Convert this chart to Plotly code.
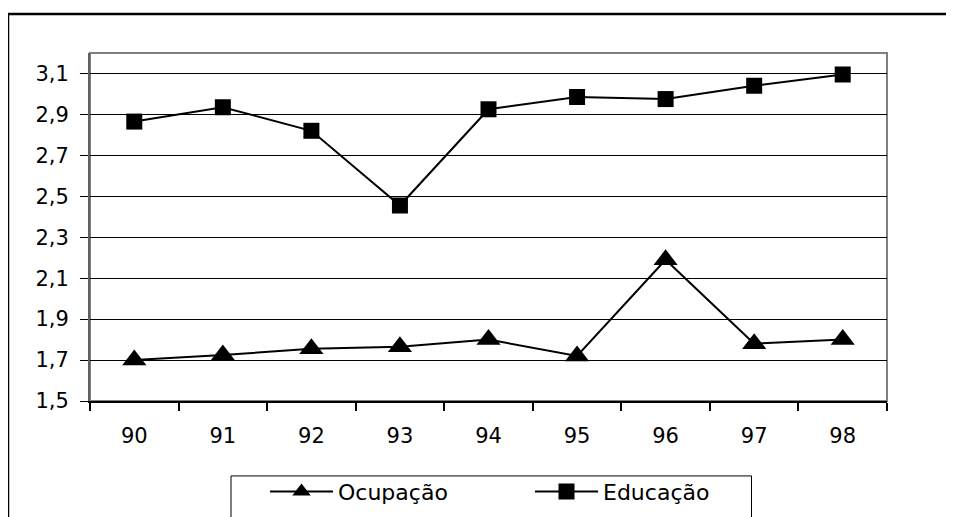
import plotly.graph_objects as go

years = ["90", "91", "92", "93", "94", "95", "96", "97", "98"]
ocupacao = [1.70, 1.725, 1.755, 1.765, 1.80, 1.72, 2.19, 1.78, 1.80]
educacao = [2.865, 2.935, 2.82, 2.455, 2.925, 2.985, 2.975, 3.04, 3.095]
y_ticks = [1.5, 1.7, 1.9, 2.1, 2.3, 2.5, 2.7, 2.9, 3.1]
y_tick_labels = ["1,5", "1,7", "1,9", "2,1", "2,3", "2,5", "2,7", "2,9", "3,1"]

W, H = 954, 517
OFF = 8  # page body margin
L, R, T, B = 90 - OFF, 954 - 887 + OFF, 53 - OFF, 517 - 406 + OFF
pw, ph = W - L - R, H - T - B

def px(x):
    return (x - OFF - L) / pw

def py(y):
    return (H - B - (y - OFF)) / ph

FONT = "DejaVu Sans"
FS = 21

fig = go.Figure()
fig.add_trace(go.Scatter(
    x=years, y=ocupacao, name="Ocupação", mode="lines+markers",
    line=dict(color="black", width=2),
    marker=dict(symbol="triangle-up", size=21, color="black"),
))
fig.add_trace(go.Scatter(
    x=years, y=educacao, name="Educação", mode="lines+markers",
    line=dict(color="black", width=2),
    marker=dict(symbol="square", size=16, color="black"),
))

shapes = [
    # outer chart frame: only left and top edges visible
    dict(type="path", xref="paper", yref="paper",
         path=f"M {px(8)},{py(540)} L {px(8)},{py(13.5)} L {px(975)},{py(13.5)}",
         line=dict(color="black", width=2.5), layer="above"),
    # plot area border (gray)
    dict(type="rect", xref="paper", yref="paper", x0=0, x1=1, y0=0, y1=1,
         line=dict(color="#808080", width=2), layer="below"),
    # legend box
    dict(type="rect", xref="paper", yref="paper",
         x0=px(231), x1=px(751.5), y0=py(540), y1=py(482),
         line=dict(color="black", width=1)),
]

fig.update_layout(
    width=W, height=H,
    margin=dict(l=L, r=R, t=T, b=B),
    paper_bgcolor="white", plot_bgcolor="white",
    font=dict(family=FONT, size=FS, color="black"),
    showlegend=True,
    legend=dict(
        orientation="h", xanchor="left", yanchor="middle",
        x=px(265), y=py(498),
        bgcolor="rgba(0,0,0,0)", borderwidth=0,
        font=dict(family=FONT, size=22, color="black"),
        itemwidth=63, entrywidth=187, entrywidthmode="pixels",
        traceorder="normal",
    ),
    shapes=shapes,
)
fig.update_xaxes(
    type="category", range=[-0.5, 8.5],
    showline=True, linecolor="black", linewidth=1.5,
    ticks="outside", tickson="boundaries", ticklen=8, tickcolor="black", tickwidth=1.5,
    showgrid=False, zeroline=False, ticklabelstandoff=15,
    tickfont=dict(family=FONT, size=FS, color="black"),
)
fig.update_yaxes(
    range=[1.5, 3.2], tickvals=y_ticks, ticktext=y_tick_labels,
    showline=True, linecolor="#606060", linewidth=2,
    ticks="outside", ticklen=8, tickcolor="black", tickwidth=1,
    showgrid=True, gridcolor="black", gridwidth=1, zeroline=False,
    ticklabelstandoff=7,
    tickfont=dict(family=FONT, size=FS, color="black"),
)

fig.write_html(
    "out.html",
    post_script="document.documentElement.style.overflow='hidden';document.body.style.overflow='hidden';",
)
